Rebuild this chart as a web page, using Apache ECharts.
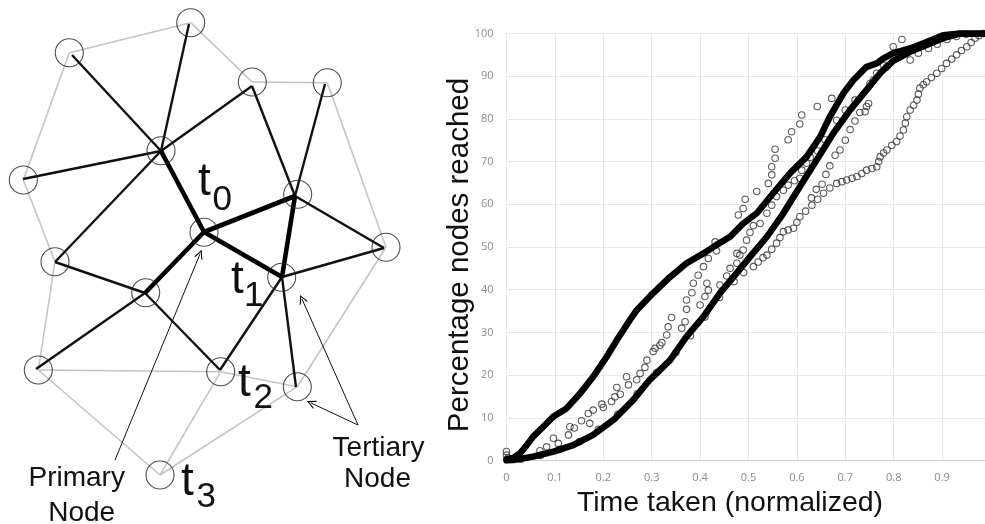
<!DOCTYPE html>
<html><head><meta charset="utf-8">
<script src="https://cdn.jsdelivr.net/npm/echarts@6/dist/echarts.min.js"></script>
<style>html,body{margin:0;padding:0;background:#fff}#c{width:985px;height:524px}</style>
</head><body><div id="c"></div>
<script>
// ---------- right chart data (x: normalized time, y: % nodes reached) ----------
const xTickLabels = ['0','0.1','0.2','0.3','0.4','0.5','0.6','0.7','0.8','0.9'];
const yTickLabels = ['0','10','20','30','40','50','60','70','80','90','100'];

const seriesA = [[0,0.3],[0.014,0.6],[0.028,1.7],[0.042,3.6],[0.055,5.6],[0.076,7.9],[0.097,10.3],[0.124,12.2],[0.152,15.7],[0.179,19.6],[0.207,24.3],[0.228,28.2],[0.255,32.9],[0.269,35.2],[0.303,39.2],[0.338,43],[0.372,46.2],[0.407,48.5],[0.434,50.5],[0.462,52.4],[0.489,55.5],[0.517,57.9],[0.551,62.6],[0.586,67.3],[0.62,71.1],[0.648,75.8],[0.668,80.5],[0.696,86],[0.717,89.1],[0.744,92.2],[0.765,93],[0.779,94.2],[0.799,95.4],[0.834,96.5],[0.868,98],[0.902,99.6],[0.937,100],[1,100]];

const seriesB = [[0,0],[0.014,0.1],[0.055,0.9],[0.097,2.1],[0.138,3.6],[0.179,6],[0.221,9.5],[0.262,14.2],[0.296,18.9],[0.338,23.5],[0.372,29],[0.407,33.7],[0.441,39.2],[0.469,43],[0.503,47.7],[0.538,52.4],[0.572,57.9],[0.606,64.1],[0.641,70.4],[0.675,76.6],[0.71,82.1],[0.744,86.8],[0.772,90.7],[0.799,93.6],[0.834,95.7],[0.868,97.3],[0.902,98.9],[0.937,100],[1,100]];

const seriesC = [[0,2.1],[0,1.3],[0.003,0.6],[0.069,2.3],[0.083,3.2],[0.097,5.2],[0.107,4],[0.128,6],[0.131,7.9],[0.14,7.6],[0.155,9.3],[0.169,11],[0.172,8.7],[0.179,11.8],[0.197,13.2],[0.2,12.4],[0.217,13.8],[0.224,14.9],[0.228,17.1],[0.235,15.5],[0.248,19.6],[0.252,17.7],[0.269,18.9],[0.276,20.4],[0.286,21.8],[0.29,23.5],[0.303,25.5],[0.307,26.3],[0.317,27],[0.321,27.6],[0.331,29.4],[0.334,31.3],[0.341,33.5],[0.362,31],[0.369,32.5],[0.372,35.4],[0.372,37.6],[0.383,39.3],[0.386,41.5],[0.396,43.4],[0.407,45.4],[0.417,47.3],[0.431,51.2],[0.434,49.1],[0.4,36.4],[0.41,38.4],[0.417,39.9],[0.414,41.5],[0.441,41.1],[0.455,43.2],[0.462,45],[0.476,46.2],[0.482,48.1],[0.476,48.5],[0.496,51.6],[0.489,49.3],[0.479,57.5],[0.489,59],[0.493,61.2],[0.517,63],[0.541,64.9],[0.548,66.9],[0.548,68.8],[0.555,70.8],[0.555,72.9],[0.582,75.1],[0.589,77],[0.606,78.8],[0.61,80.9],[0.642,82.9],[0.672,84.8],[0.817,98.6]];

const seriesD = [[0.03,0.3],[0.07,1.2],[0.11,2.6],[0.15,4.4],[0.19,7.3],[0.23,10.8],[0.27,15.6],[0.31,20.6],[0.35,25.3],[0.38,29.2],[0.41,33.6],[0.44,38.2],[0.47,41.9],[0.49,44],[0.51,45.4],[0.52,46.5],[0.53,47.5],[0.538,48.1],[0.548,49.5],[0.558,50.9],[0.565,52.2],[0.572,53.6],[0.582,54],[0.593,54.4],[0.6,55.8],[0.606,57.1],[0.618,58.4],[0.631,59.8],[0.643,61.2],[0.655,62.6],[0.668,63.8],[0.682,64.9],[0.693,65.3],[0.703,65.7],[0.714,66.1],[0.724,66.5],[0.734,67.2],[0.744,68],[0.755,68.4],[0.765,68.8],[0.769,70],[0.772,71.1],[0.779,72],[0.786,72.7],[0.796,73.8],[0.806,74.7],[0.813,76],[0.82,77.4],[0.824,79],[0.827,80.5],[0.834,82.1],[0.841,83.2],[0.848,84.4],[0.851,85.8],[0.854,87.2],[0.861,88],[0.868,88.7],[0.878,89.7],[0.889,90.7],[0.899,91.8],[0.909,93],[0.92,94],[0.93,95],[0.94,96],[0.951,96.9],[0.96,97.9],[0.968,98.9],[0.976,99.5],[0.985,100]];

const seriesE = [[0.503,53.4],[0.51,55],[0.524,55.5],[0.538,57.9],[0.548,59.8],[0.558,61.8],[0.572,63.3],[0.582,64.5],[0.595,65.5],[0.606,66.1],[0.61,68],[0.62,69.6],[0.628,71],[0.643,72.5],[0.658,75.1],[0.63,61.5],[0.64,63.5],[0.652,64.7],[0.66,67],[0.668,69],[0.679,71.5],[0.689,72.7],[0.7,75],[0.71,77.5],[0.72,79.5],[0.73,81.5],[0.682,79.7],[0.7,82.1],[0.72,84.4],[0.741,81.7],[0.744,82.9],[0.748,83.6],[0.751,88.3],[0.758,89.1],[0.765,90.7],[0.779,92.6],[0.786,92.2],[0.799,94.4],[0.799,96.9],[0.81,95],[0.834,93.8],[0.851,95.4],[0.872,96.5],[0.89,97.5],[0.91,98.6],[0.93,99.3],[0.95,99.8]];

// ---------- left diagram data (diagram units) ----------
const nodeCircles = [[190.7,22.7],[69.3,52.7],[252.3,82],[327.3,82.7],[161,150.7],[23.3,180],[297.7,194.3],[204,232.3],[386,247.3],[55,261.7],[281.7,277.3],[145.7,292.7],[38.3,370],[220.7,371.7],[297.3,386.7],[160,475]];
const thinEdges = [
  [[72,55],[161,151]], [[189,24],[161,151]], [[23,179],[161,151]], [[161,151],[252,86]], [[161,151],[55,262]],
  [[252,86],[295,196]], [[325,84],[295,196]], [[282,277],[296,387]], [[145,293],[36,369]], [[55,262],[145,293]],
  [[145,293],[220,370]], [[220,370],[282,277]], [[295,196],[384,248]], [[384,248],[282,277]]
];
const thickEdges = [
  [[161,151],[204,232]], [[204,232],[295,196]], [[204,232],[282,277]], [[204,232],[145,293]], [[295,196],[282,277]]
];
const grayEdges = [
  [[69.3,52.7],[190.7,22.7]], [[190.7,22.7],[252.3,82]], [[252.3,82],[327.3,82.7]], [[327.3,82.7],[386,247.3]],
  [[386,247.3],[297.3,386.7]], [[69.3,52.7],[23.3,180]], [[23.3,180],[55,261.7]], [[55,261.7],[38.3,370]],
  [[38.3,370],[220.7,371.7]], [[220.7,371.7],[297.3,386.7]], [[38.3,370],[160,475]], [[220.7,371.7],[160,475]],
  [[297.3,386.7],[160,475]]
];
const arrowEdges = [
  [[115,460],[200,254]], [[358,425],[302,299]], [[358,425],[311,403]]
];

const FONT = '"Liberation Sans", Arial, Helvetica, sans-serif';
const chart = echarts.init(document.getElementById('c'), null, {renderer: 'canvas'});

function lineData(list) { return list.map(c => ({coords: c})); }
const chevron = 'path://M0,10 L5,0 L10,10 L8.6,10 L5,2.8 L1.4,10 Z';

function txt(text, x, y, size, align) {
  return {type: 'text', z: 100, style: {text: text, x: x, y: y, fill: '#111', font: size + 'px ' + FONT,
    textAlign: align || 'left', textVerticalAlign: 'middle'}};
}
function tickText(labels, step) {
  return (v) => {
    const k = v / step;
    return Math.abs(k - Math.round(k)) < 1e-6 ? (labels[Math.round(k)] || '') : '';
  };
}

// plot area: x from 0 at 506.5px, 0.1 per 48.4px; the right edge of the page cuts it just before x = 1
const GRID_LEFT = 506.5, PX_PER_UNIT = 484;
const X_MAX_VISIBLE = (985 - GRID_LEFT) / PX_PER_UNIT;

const option = {
  animation: false,
  backgroundColor: '#fff',
  grid: [
    {left: GRID_LEFT, top: 33.5, right: 0, height: 427},
    {left: 0, top: 0, width: 440, height: 524}
  ],
  xAxis: [
    {type: 'value', min: 0, max: X_MAX_VISIBLE, interval: 0.1,
     axisLine: {show: true, lineStyle: {color: '#d2d2d2', width: 1}},
     axisTick: {show: false},
     axisLabel: {color: '#8a8a8a', fontSize: 11, margin: 12, fontFamily: '"Open Sans", sans-serif',
       showMaxLabel: false, formatter: tickText(xTickLabels, 0.1)},
     splitLine: {show: true, lineStyle: {color: '#e8e8e8', width: 1}}},
    {gridIndex: 1, type: 'value', min: 0, max: 440, show: false}
  ],
  yAxis: [
    {type: 'value', min: 0, max: 100, interval: 10,
     axisLine: {show: false}, axisTick: {show: false},
     axisLabel: {color: '#8a8a8a', fontSize: 11, margin: 13, fontFamily: '"Open Sans", sans-serif',
       formatter: tickText(yTickLabels, 10)},
     splitLine: {show: true, lineStyle: {color: '#e8e8e8', width: 1}}},
    {gridIndex: 1, type: 'value', min: 0, max: 524, inverse: true, show: false}
  ],
  series: [
    {type: 'scatter', data: seriesC, symbol: 'circle', symbolSize: 6.5, z: 2,
     itemStyle: {color: 'rgba(255,255,255,0)', borderColor: '#333', borderWidth: 1.1}},
    {type: 'scatter', data: seriesD, symbol: 'circle', symbolSize: 6.5, z: 2,
     itemStyle: {color: 'rgba(255,255,255,0)', borderColor: '#333', borderWidth: 1.1}},
    {type: 'scatter', data: seriesE, symbol: 'circle', symbolSize: 6.5, z: 2,
     itemStyle: {color: 'rgba(255,255,255,0)', borderColor: '#333', borderWidth: 1.1}},
    {type: 'line', data: seriesA, showSymbol: false, symbol: 'none', z: 3,
     lineStyle: {color: '#000', width: 6.5, join: 'round', cap: 'round'}},
    {type: 'line', data: seriesB, showSymbol: false, symbol: 'none', z: 3,
     lineStyle: {color: '#000', width: 6.5, join: 'round', cap: 'round'}},
    // diagram
    {type: 'lines', coordinateSystem: 'cartesian2d', xAxisIndex: 1, yAxisIndex: 1, z: 1,
     data: lineData(grayEdges), lineStyle: {color: '#c4c4c4', width: 1.6, opacity: 1}},
    {type: 'lines', coordinateSystem: 'cartesian2d', xAxisIndex: 1, yAxisIndex: 1, z: 2,
     data: lineData(thinEdges), lineStyle: {color: '#111', width: 2.4, opacity: 1}},
    {type: 'lines', coordinateSystem: 'cartesian2d', xAxisIndex: 1, yAxisIndex: 1, z: 3,
     data: lineData(thickEdges), lineStyle: {color: '#000', width: 4.6, opacity: 1}},
    {type: 'lines', coordinateSystem: 'cartesian2d', xAxisIndex: 1, yAxisIndex: 1, z: 3,
     data: lineData(arrowEdges), symbol: ['none', chevron], symbolSize: 9,
     lineStyle: {color: '#111', width: 1, opacity: 1}},
    {type: 'scatter', xAxisIndex: 1, yAxisIndex: 1, data: nodeCircles, symbol: 'circle', symbolSize: 28, z: 4,
     itemStyle: {color: 'rgba(255,255,255,0)', borderColor: '#222', borderWidth: 1.1}}
  ],
  graphic: [
    txt('t', 198, 182.5, 46), txt('0', 212.5, 200.5, 35),
    txt('t', 231, 280, 46), txt('1', 244, 296.5, 35),
    txt('t', 238, 383.5, 46), txt('2', 253.5, 398.5, 35),
    txt('t', 181, 482.5, 46), txt('3', 196.5, 497.5, 35),
    txt('Primary', 76.7, 478, 28, 'center'), txt('Node', 81.7, 513, 28, 'center'),
    txt('Tertiary', 378.5, 448, 28, 'center'), txt('Node', 377.5, 479, 28, 'center'),
    {type: 'text', z: 100, x: 460, y: 255, rotation: Math.PI / 2,
     style: {text: 'Percentage nodes reached', x: 0, y: 0, fill: '#111', font: '29.5px ' + FONT, textAlign: 'center', textVerticalAlign: 'middle'}},
    txt('Time taken (normalized)', 730, 503, 28.5, 'center')
  ]
};
chart.setOption(option);
</script>
</body></html>
